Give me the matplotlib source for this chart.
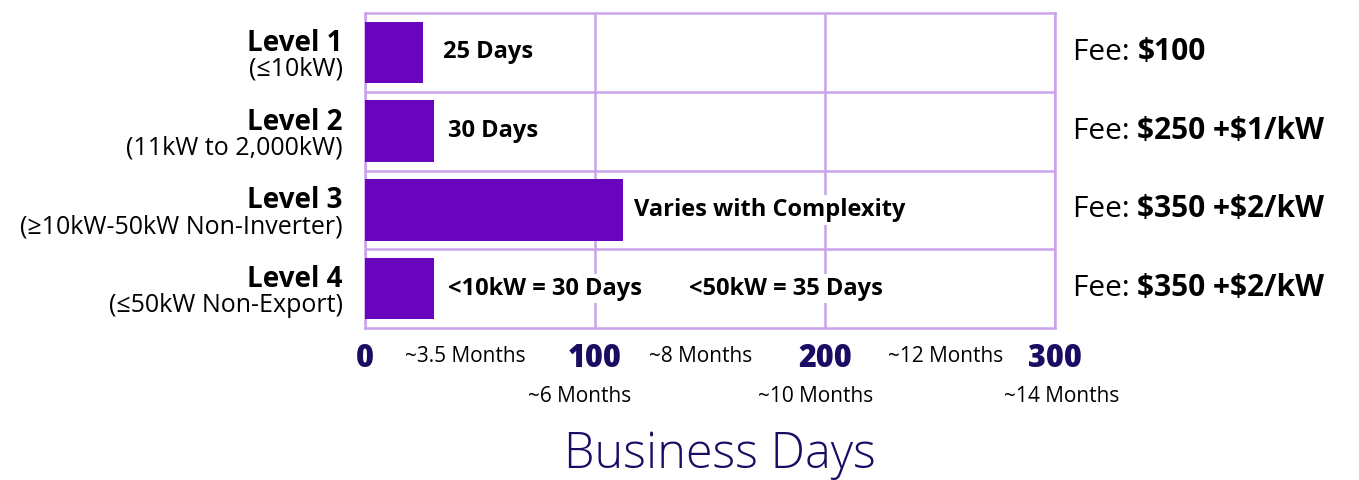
import matplotlib
matplotlib.use("Agg")
import matplotlib.pyplot as plt
import matplotlib.transforms as mtransforms

plt.rcParams['font.family'] = ['Open Sans', 'DejaVu Sans']

# data
levels = ["Level 1", "Level 2", "Level 3", "Level 4"]
subtitles = ["(≤10kW)", "(11kW to 2,000kW)", "(≥10kW-50kW Non-Inverter)", "(≤50kW Non-Export)"]
days = [25, 30, 112, 30]
bar_labels = ["25 Days", "30 Days", "Varies with Complexity", "<10kW = 30 Days"]
bar_label_x = [34, 36, 117, 36]
extra_label = "<50kW = 35 Days"
extra_label_x = 141
fee_values = ["$100", "$250 +$1/kW", "$350 +$2/kW", "$350 +$2/kW"]
xticks = [0, 100, 200, 300]
month_row1 = ["~3.5 Months", "~8 Months", "~12 Months"]
month_row1_x = [43.5, 146, 252.5]
month_row2 = ["~6 Months", "~10 Months", "~14 Months"]
month_row2_x = [93.5, 196, 303]

bar_color = '#6a05be'
grid_color = '#c9a3ea'
navy = '#1b0b63'

fig = plt.figure(figsize=(13.59, 4.8), dpi=100)
ax = fig.add_axes([365/1359, 1-328/480, 690/1359, 315/480])

y = list(range(len(levels)))
ax.barh(y, days, height=0.78, color=bar_color, zorder=3)
ax.set_xlim(0, 300)
ax.set_ylim(3.5, -0.5)

# grid
ax.set_xticks(xticks)
ax.set_yticks([])
ax.set_yticks([0.5, 1.5, 2.5], minor=True)
ax.grid(True, axis='x', which='major', color=grid_color, lw=1.8, zorder=0)
ax.grid(True, axis='y', which='minor', color=grid_color, lw=1.8, zorder=0)
ax.tick_params(axis='both', which='both', length=0)
ax.tick_params(axis='x', pad=11, labelsize=22, labelcolor=navy)
for lab in ax.get_xticklabels():
    lab.set_fontweight('heavy')
for sp in ax.spines.values():
    sp.set_color(grid_color)
    sp.set_linewidth(1.8)

# left labels
trans_left = mtransforms.blended_transform_factory(ax.transAxes, ax.transData)
for i in y:
    ax.annotate(levels[i], xy=(0, i), xycoords=trans_left, xytext=(-16, 1),
                textcoords='offset points', ha='right', va='baseline',
                fontsize=20, fontweight='bold', color='black', annotation_clip=False)
    ax.annotate(subtitles[i], xy=(0, i), xycoords=trans_left, xytext=(-16, -3),
                textcoords='offset points', ha='right', va='top',
                fontsize=18, color='black', annotation_clip=False)

# bar labels
box = dict(facecolor='white', edgecolor='none', pad=2)
for i in y:
    ax.text(bar_label_x[i], i, bar_labels[i], ha='left', va='center', fontsize=17,
            fontweight='bold', color='black', bbox=box, zorder=4)
ax.text(extra_label_x, 3, extra_label, ha='left', va='center', fontsize=17,
        fontweight='bold', color='black', bbox=box, zorder=4)

# fee labels
for i in y:
    t = ax.text(307.8, i, "Fee: ", ha='left', va='center', fontsize=21.5,
                color='black', clip_on=False, parse_math=False)
    ax.annotate(fee_values[i], xy=(1, 0), xycoords=t, va='bottom', ha='left',
                fontsize=21.5, fontweight='bold', color='black', annotation_clip=False,
                parse_math=False)

# month labels
xtrans = ax.get_xaxis_transform()
for lab, xv in zip(month_row1, month_row1_x):
    ax.text(xv, -0.089, lab, transform=xtrans, ha='center', va='center',
            fontsize=15, color='black', clip_on=False)
for lab, xv in zip(month_row2, month_row2_x):
    ax.text(xv, -0.216, lab, transform=xtrans, ha='center', va='center',
            fontsize=15, color='black', clip_on=False)

fig.text(720/1359, 1-455/480, "Business Days", ha='center', va='center',
         fontsize=35, fontweight='light', color=navy)

fig.savefig("out.png", dpi=100, facecolor='white')
